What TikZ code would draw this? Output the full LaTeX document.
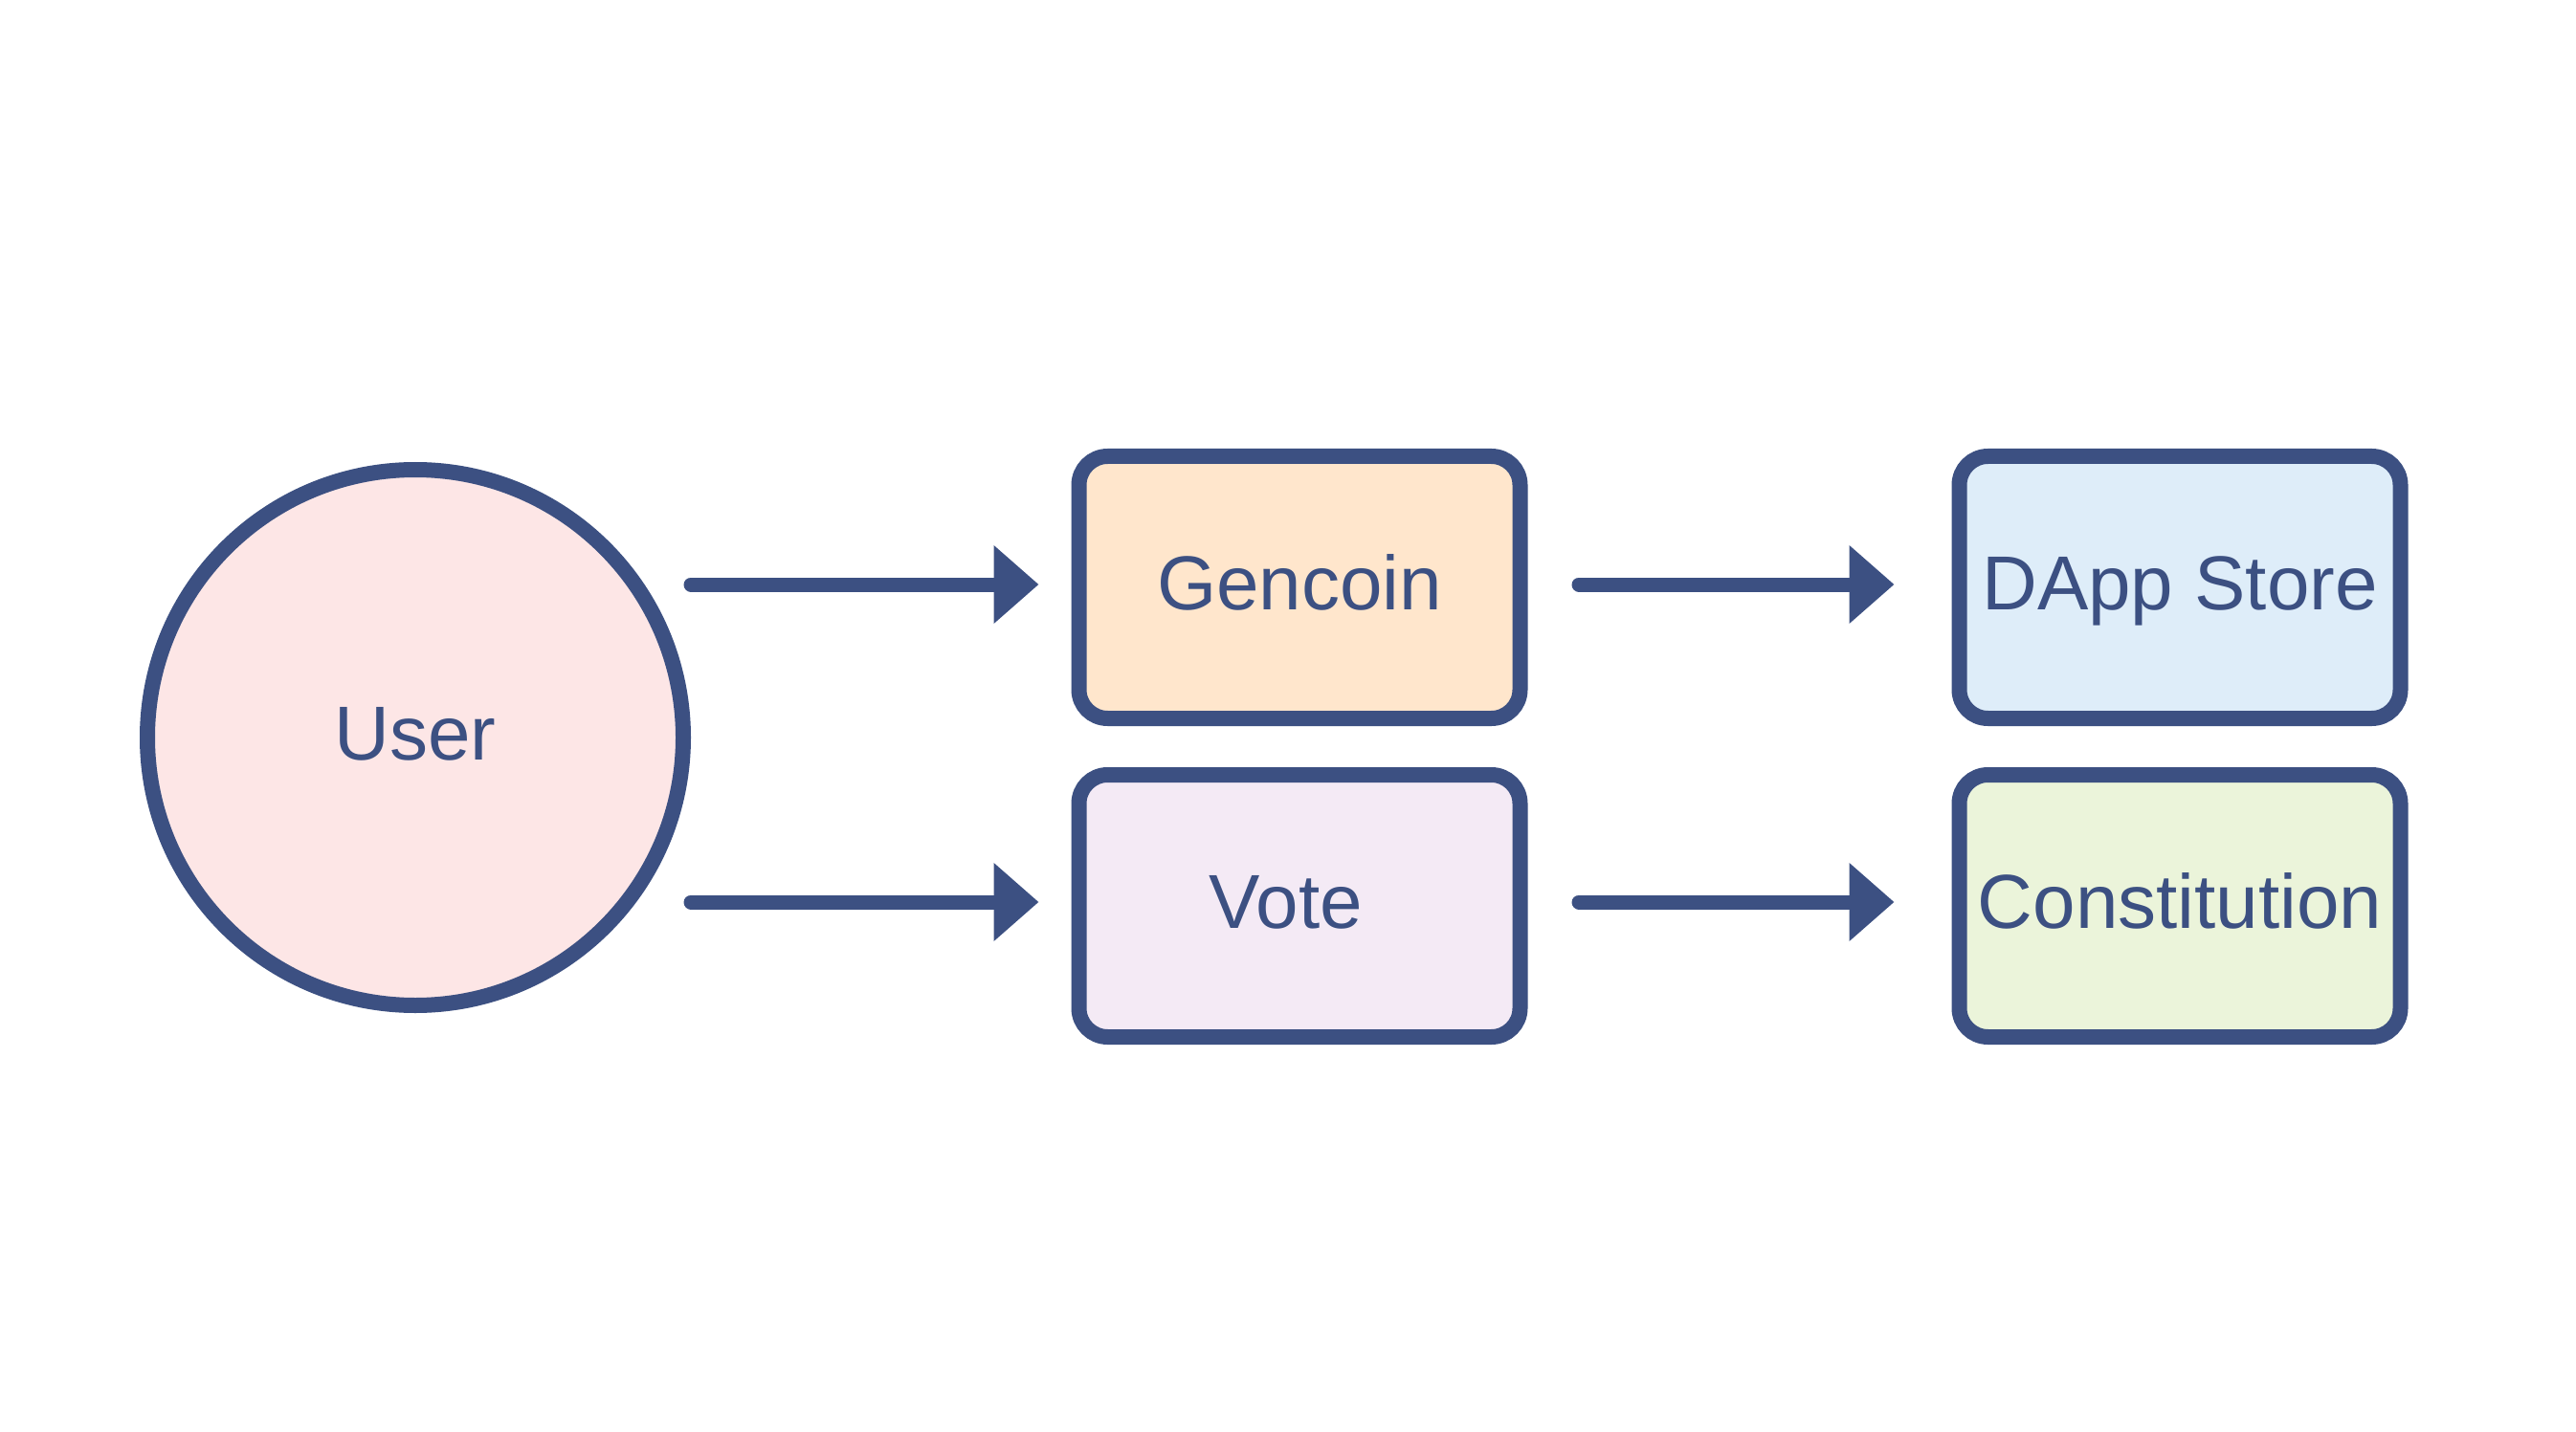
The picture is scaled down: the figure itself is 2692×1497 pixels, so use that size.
\documentclass[tikz,border=0pt]{standalone}
\usepackage{fontspec}
\setmainfont{Liberation Sans}
\usetikzlibrary{arrows.meta}
\definecolor{edge}{HTML}{3C5082}
\definecolor{fpink}{HTML}{FDE6E6}
\definecolor{fpeach}{HTML}{FFE6CC}
\definecolor{fblue}{HTML}{DEEDF9}
\definecolor{fpurple}{HTML}{F4EAF5}
\definecolor{fgreen}{HTML}{EBF4DA}
\tikzset{
  txt/.style={text=edge, font=\fontsize{40pt}{48pt}\selectfont, text height=30pt, text depth=6.4pt},
  boxnode/.style={txt, draw=edge, line width=8pt, rounded corners=15pt, minimum width=230.5pt, minimum height=137pt, inner sep=0pt},
  circnode/.style={txt, circle, draw=edge, line width=8pt, minimum size=280pt, inner sep=0pt},
  conn/.style={draw=edge, line width=7.5pt, line cap=round, -{Triangle[length=23.5pt, width=39.5pt]}}
}
\begin{document}
\begin{tikzpicture}[x=0.5pt, y=-0.5pt]
\useasboundingbox[fill=white] (0,0) rectangle (2692,1497);
\node[circnode, fill=fpink] (user) at (434,771) {User};
\node[boxnode, fill=fpeach] (gen) at (1358,614) {Gencoin};
\node[boxnode, fill=fpurple] (vote) at (1358,947) {Vote\kern14pt};
\node[boxnode, fill=fblue] (dapp) at (2278,614) {DApp Store};
\node[boxnode, fill=fgreen] (const) at (2278,947) {Constitution};
\coordinate (s1) at (722,611);
\coordinate (s2) at (722,943);
\coordinate (s3) at (1650,611);
\coordinate (s4) at (1650,943);
\draw[conn, shorten >=17pt] (s1) -- (s1 -| gen.west);
\draw[conn, shorten >=17pt] (s2) -- (s2 -| vote.west);
\draw[conn, shorten >=30pt] (s3) -- (s3 -| dapp.west);
\draw[conn, shorten >=30pt] (s4) -- (s4 -| const.west);
\end{tikzpicture}
\end{document}
